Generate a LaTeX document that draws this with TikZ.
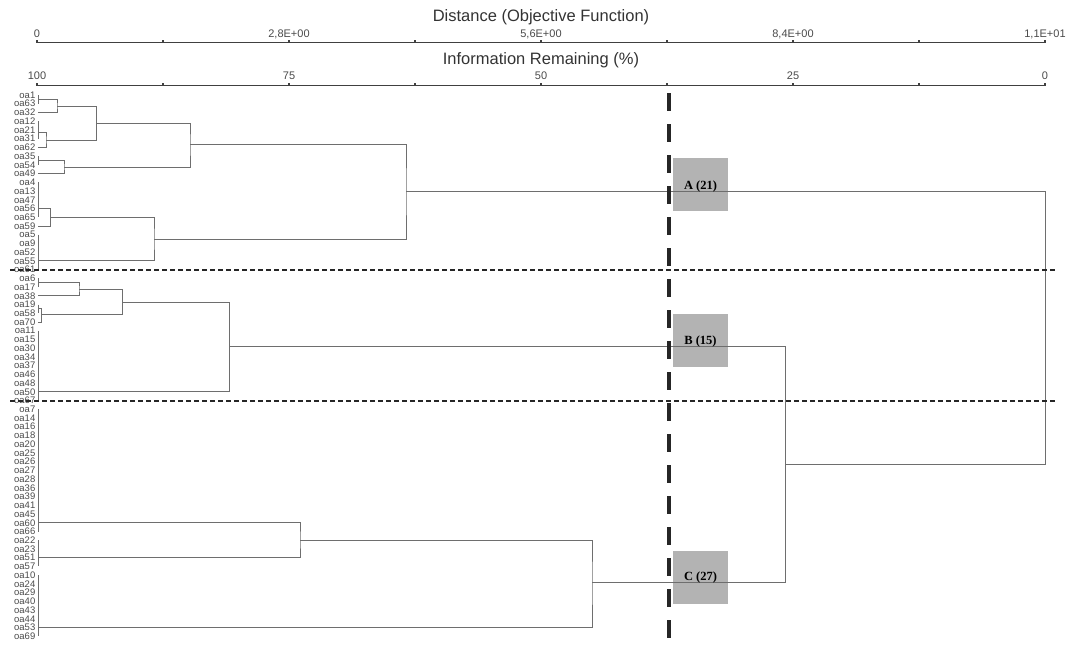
\documentclass[tikz,border=0pt]{standalone}
\usepackage{fontspec}
\setmainfont{Liberation Serif}
\setsansfont{Liberation Sans}
\usetikzlibrary{calc}

\definecolor{branchgray}{HTML}{6E6E6E}
\definecolor{axisgray}{HTML}{404040}
\definecolor{labelgray}{HTML}{4A4A4A}
\definecolor{titlegray}{HTML}{333333}
\definecolor{boxgray}{HTML}{B3B3B3}

\begin{document}
\begin{tikzpicture}[
    x=1pt, y=-1pt,
    leaf/.style={anchor=east, inner xsep=2.5pt, inner ysep=0pt, font=\sffamily\fontsize{9.5}{9.5}\selectfont, text=labelgray},
    branch/.style={draw=branchgray, line width=0.9pt},
    axis/.style={draw=axisgray, line width=1.7pt},
    ticklabel/.style={anchor=base, inner sep=0pt, font=\sffamily\fontsize{11}{11}\selectfont, text=labelgray},
    axistitle/.style={anchor=base, inner sep=0pt, font=\sffamily\fontsize{16.5}{16.5}\selectfont, text=titlegray},
    clusbox/.style={rectangle, fill=boxgray, inner sep=0pt, minimum width=55pt, minimum height=53pt},
    cluslabel/.style={inner sep=0pt, font=\bfseries\fontsize{12.5}{12.5}\selectfont},
    cutline/.style={draw=black!85, line width=4.5pt, dash pattern=on 17.5pt off 13.5pt},
    groupline/.style={draw=black!85, line width=1.8pt, dash pattern=on 5pt off 3pt}
]

\useasboundingbox (0,0) rectangle (1068,646);

% Axes
\node[axistitle] (disttitle) at (541,21.5) {Distance (Objective Function)};
\coordinate (dist0) at (37,42.5);
\coordinate (dist8) at (1045,42.5);
\draw[axis] (dist0) -- (dist8);
\foreach \k in {0,...,8} {
  \draw[axis] (37+126*\k,42.5) -- ++(0,-3);
}
\node[ticklabel] (d0) at (37,37.5) {0};
\node[ticklabel] (d2) at (289,37.5) {2,8E+00};
\node[ticklabel] (d4) at (541,37.5) {5,6E+00};
\node[ticklabel] (d6) at (793,37.5) {8,4E+00};
\node[ticklabel] (d8) at (1045,37.5) {1,1E+01};

\node[axistitle] (infotitle) at (541,64) {Information Remaining (\%)};
\coordinate (info0) at (37,85.5);
\coordinate (info8) at (1045,85.5);
\draw[axis] (info0) -- (info8);
\foreach \k in {0,...,8} {
  \draw[axis] (37+126*\k,85.5) -- ++(0,-3);
}
\node[ticklabel] (i0) at (37,79) {100};
\node[ticklabel] (i2) at (289,79) {75};
\node[ticklabel] (i4) at (541,79) {50};
\node[ticklabel] (i6) at (793,79) {25};
\node[ticklabel] (i8) at (1045,79) {0};

% Group boxes
\node[clusbox] (boxA) at (700.5,184.5) {};
\node[clusbox] (boxB) at (700.5,340) {};
\node[clusbox] (boxC) at (700.5,577) {};

% Leaves, group A
\node[leaf] (oa1) at (38,95.0) {oa1};
\node[leaf] (oa63) at (38,103.7) {oa63};
\node[leaf] (oa32) at (38,112.5) {oa32};
\node[leaf] (oa12) at (38,121.2) {oa12};
\node[leaf] (oa21) at (38,129.9) {oa21};
\node[leaf] (oa31) at (38,138.7) {oa31};
\node[leaf] (oa62) at (38,147.4) {oa62};
\node[leaf] (oa35) at (38,156.1) {oa35};
\node[leaf] (oa54) at (38,164.8) {oa54};
\node[leaf] (oa49) at (38,173.6) {oa49};
\node[leaf] (oa4) at (38,182.3) {oa4};
\node[leaf] (oa13) at (38,191.0) {oa13};
\node[leaf] (oa47) at (38,199.8) {oa47};
\node[leaf] (oa56) at (38,208.5) {oa56};
\node[leaf] (oa65) at (38,217.2) {oa65};
\node[leaf] (oa59) at (38,226.0) {oa59};
\node[leaf] (oa5) at (38,234.7) {oa5};
\node[leaf] (oa9) at (38,243.4) {oa9};
\node[leaf] (oa52) at (38,252.1) {oa52};
\node[leaf] (oa55) at (38,260.9) {oa55};
\node[leaf] (oa61) at (38,269.6) {oa61};

% Leaves, group B
\node[leaf] (oa6) at (38,278.3) {oa6};
\node[leaf] (oa17) at (38,287.1) {oa17};
\node[leaf] (oa38) at (38,295.8) {oa38};
\node[leaf] (oa19) at (38,304.5) {oa19};
\node[leaf] (oa58) at (38,313.3) {oa58};
\node[leaf] (oa70) at (38,322.0) {oa70};
\node[leaf] (oa11) at (38,330.7) {oa11};
\node[leaf] (oa15) at (38,339.4) {oa15};
\node[leaf] (oa30) at (38,348.2) {oa30};
\node[leaf] (oa34) at (38,356.9) {oa34};
\node[leaf] (oa37) at (38,365.6) {oa37};
\node[leaf] (oa46) at (38,374.4) {oa46};
\node[leaf] (oa48) at (38,383.1) {oa48};
\node[leaf] (oa50) at (38,391.8) {oa50};
\node[leaf] (oa67) at (38,400.6) {oa67};

% Leaves, group C
\node[leaf] (oa7) at (38,409.3) {oa7};
\node[leaf] (oa14) at (38,418.0) {oa14};
\node[leaf] (oa16) at (38,426.7) {oa16};
\node[leaf] (oa18) at (38,435.5) {oa18};
\node[leaf] (oa20) at (38,444.2) {oa20};
\node[leaf] (oa25) at (38,452.9) {oa25};
\node[leaf] (oa26) at (38,461.7) {oa26};
\node[leaf] (oa27) at (38,470.4) {oa27};
\node[leaf] (oa28) at (38,479.1) {oa28};
\node[leaf] (oa36) at (38,487.9) {oa36};
\node[leaf] (oa39) at (38,496.6) {oa39};
\node[leaf] (oa41) at (38,505.3) {oa41};
\node[leaf] (oa45) at (38,514.0) {oa45};
\node[leaf] (oa60) at (38,522.8) {oa60};
\node[leaf] (oa66) at (38,531.5) {oa66};
\node[leaf] (oa22) at (38,540.2) {oa22};
\node[leaf] (oa23) at (38,549.0) {oa23};
\node[leaf] (oa51) at (38,557.7) {oa51};
\node[leaf] (oa57) at (38,566.4) {oa57};
\node[leaf] (oa10) at (38,575.2) {oa10};
\node[leaf] (oa24) at (38,583.9) {oa24};
\node[leaf] (oa29) at (38,592.6) {oa29};
\node[leaf] (oa40) at (38,601.3) {oa40};
\node[leaf] (oa43) at (38,610.1) {oa43};
\node[leaf] (oa44) at (38,618.8) {oa44};
\node[leaf] (oa53) at (38,627.5) {oa53};
\node[leaf] (oa69) at (38,636.3) {oa69};

% Tied leaves
\draw[branch] (oa1.east) -- (oa63.east);
\draw[branch] (oa12.east) -- (oa31.east);
\draw[branch] (oa35.east) -- (oa54.east);
\draw[branch] (oa4.east) -- (oa65.east);
\draw[branch] (oa5.east) -- (oa61.east);
\draw[branch] (oa6.east) -- (oa17.east);
\draw[branch] (oa19.east) -- (oa58.east);
\draw[branch] (oa11.east) -- (oa67.east);
\draw[branch] (oa7.east) -- (oa66.east);
\draw[branch] (oa22.east) -- (oa57.east);
\draw[branch] (oa10.east) -- (oa69.east);

% Join points
\coordinate (g1) at (38,99.4);
\coordinate (g2) at (38,132.5);
\coordinate (g3) at (38,160.5);
\coordinate (g4) at (38,208.5);
\coordinate (g5) at (38,260.9);
\coordinate (g6) at (38,282.7);
\coordinate (g7) at (38,308.9);
\coordinate (g8) at (38,391.8);
\coordinate (g9) at (38,522.8);
\coordinate (g10) at (38,557.7);
\coordinate (g11) at (38,627.5);

\coordinate (c1) at (57,106);
\coordinate (c2) at (46,140);
\coordinate (c3) at (96.5,123);
\coordinate (c4) at (64,167);
\coordinate (c5) at (190,144.5);
\coordinate (c6) at (50.5,217);
\coordinate (c7) at (154,239.3);
\coordinate (cA) at (406,191.5);
\coordinate (d1) at (79,289);
\coordinate (d2) at (41.5,314);
\coordinate (d3) at (122.5,302.3);
\coordinate (cB) at (229.5,346.5);
\coordinate (e1) at (300,540);
\coordinate (cC) at (592,582.5);
\coordinate (cBC) at (785,464.5);
\coordinate (root) at (1045,330);

% Group A
\draw[branch] (g1) -| (c1) |- (oa32.east);
\draw[branch] (g2) -| (c2) |- (oa62.east);
\draw[branch] (c1) -| (c3) |- (c2);
\draw[branch] (g3) -| (c4) |- (oa49.east);
\draw[branch] (c3) -| (c5) |- (c4);
\draw[branch] (g4) -| (c6) |- (oa59.east);
\draw[branch] (c6) -| (c7) |- (g5);
\draw[branch] (c5) -| (cA) |- (c7);

% Group B
\draw[branch] (g6) -| (d1) |- (oa38.east);
\draw[branch] (g7) -| (d2) |- (oa70.east);
\draw[branch] (d1) -| (d3) |- (d2);
\draw[branch] (d3) -| (cB) |- (g8);

% Group C
\draw[branch] (g9) -| (e1) |- (g10);
\draw[branch] (e1) -| (cC) |- (g11);

% Top joins
\draw[branch] (cB) -| (cBC) |- (cC);
\draw[branch] (cA) -| (root) |- (cBC);

% Group labels
\node[cluslabel] (labA) at (700.5,186) {A (21)};
\node[cluslabel] (labB) at (700.5,341) {B (15)};
\node[cluslabel] (labC) at (700.5,577) {C (27)};

% Cut lines
\coordinate (sepAl) at (10,270);
\coordinate (sepAr) at (1055,270);
\coordinate (sepBl) at (10,401);
\coordinate (sepBr) at (1055,401);
\draw[groupline] (sepAl) -- (sepAr);
\draw[groupline] (sepBl) -- (sepBr);

\coordinate (cuttop) at (669,93);
\coordinate (cutbot) at (669,646);
\draw[cutline] (cuttop) -- (cutbot);

\end{tikzpicture}
\end{document}
